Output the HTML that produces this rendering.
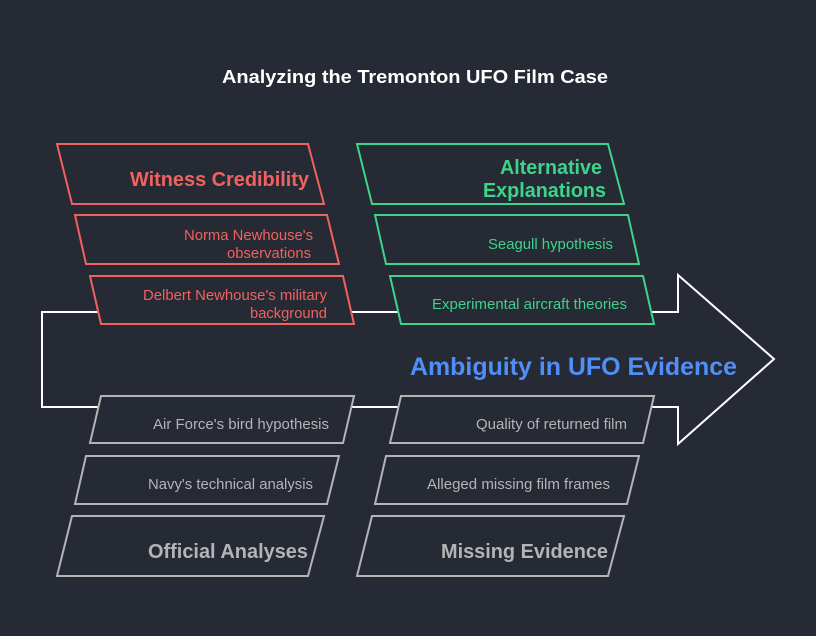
<!DOCTYPE html>
<html><head><meta charset="utf-8"><style>
html,body{margin:0;padding:0;background:#262a34;}
svg{display:block;font-family:"Liberation Sans",Arial,sans-serif;}
</style></head><body>
<svg width="816" height="636" viewBox="0 0 816 636">
<rect width="816" height="636" fill="#262a34"/>
<text x="222" y="83" fill="#ffffff" font-size="18" font-weight="bold" textLength="386" lengthAdjust="spacingAndGlyphs">Analyzing the Tremonton UFO Film Case</text>
<polygon points="42,312 678,312 678,275 774,359 678,444 678,407 42,407" fill="none" stroke="#ffffff" stroke-width="2"/>
<text x="410" y="375" fill="#4f8ff7" font-size="25" font-weight="bold" textLength="327" lengthAdjust="spacingAndGlyphs">Ambiguity in UFO Evidence</text>
<g fill="#262a34" stroke-width="2">
<polygon points="57,144 308,144 324,204 72,204" stroke="#f0625f"/>
<polygon points="75,215 327,215 339,264 86,264" stroke="#f0625f"/>
<polygon points="90,276 343,276 354,324 101,324" stroke="#f0625f"/>
<polygon points="357,144 608,144 624,204 372,204" stroke="#3ed38a"/>
<polygon points="375,215 628,215 639,264 386,264" stroke="#3ed38a"/>
<polygon points="390,276 643,276 654,324 401,324" stroke="#3ed38a"/>
<polygon points="101,396 354,396 343,443 90,443" stroke="#b4b4b4"/>
<polygon points="86,456 339,456 327,504 75,504" stroke="#b4b4b4"/>
<polygon points="72,516 324,516 308,576 57,576" stroke="#b4b4b4"/>
<polygon points="401,396 654,396 643,443 390,443" stroke="#b4b4b4"/>
<polygon points="386,456 639,456 627,504 375,504" stroke="#b4b4b4"/>
<polygon points="372,516 624,516 608,576 357,576" stroke="#b4b4b4"/>
</g>
<g lengthAdjust="spacingAndGlyphs">
<text x="130" y="186" fill="#f0625f" font-size="20" font-weight="bold" textLength="179" lengthAdjust="spacingAndGlyphs">Witness Credibility</text>
<text x="184" y="240" fill="#f0625f" font-size="15" textLength="129" lengthAdjust="spacingAndGlyphs">Norma Newhouse's</text>
<text x="227" y="258" fill="#f0625f" font-size="15" textLength="84" lengthAdjust="spacingAndGlyphs">observations</text>
<text x="143" y="300" fill="#f0625f" font-size="15" textLength="184" lengthAdjust="spacingAndGlyphs">Delbert Newhouse's military</text>
<text x="250" y="318" fill="#f0625f" font-size="15" textLength="77" lengthAdjust="spacingAndGlyphs">background</text>
<text x="500" y="174" fill="#3ed38a" font-size="20" font-weight="bold" textLength="102" lengthAdjust="spacingAndGlyphs">Alternative</text>
<text x="483" y="197" fill="#3ed38a" font-size="20" font-weight="bold" textLength="123" lengthAdjust="spacingAndGlyphs">Explanations</text>
<text x="488" y="249" fill="#3ed38a" font-size="15" textLength="125" lengthAdjust="spacingAndGlyphs">Seagull hypothesis</text>
<text x="432" y="309" fill="#3ed38a" font-size="15" textLength="195" lengthAdjust="spacingAndGlyphs">Experimental aircraft theories</text>
<text x="153" y="429" fill="#b4b4b4" font-size="15" textLength="176" lengthAdjust="spacingAndGlyphs">Air Force's bird hypothesis</text>
<text x="148" y="489" fill="#b4b4b4" font-size="15" textLength="165" lengthAdjust="spacingAndGlyphs">Navy's technical analysis</text>
<text x="148" y="558" fill="#b4b4b4" font-size="20" font-weight="bold" textLength="160" lengthAdjust="spacingAndGlyphs">Official Analyses</text>
<text x="476" y="429" fill="#b4b4b4" font-size="15" textLength="151" lengthAdjust="spacingAndGlyphs">Quality of returned film</text>
<text x="427" y="489" fill="#b4b4b4" font-size="15" textLength="183" lengthAdjust="spacingAndGlyphs">Alleged missing film frames</text>
<text x="441" y="558" fill="#b4b4b4" font-size="20" font-weight="bold" textLength="167" lengthAdjust="spacingAndGlyphs">Missing Evidence</text>
</g>
</svg>
</body></html>
